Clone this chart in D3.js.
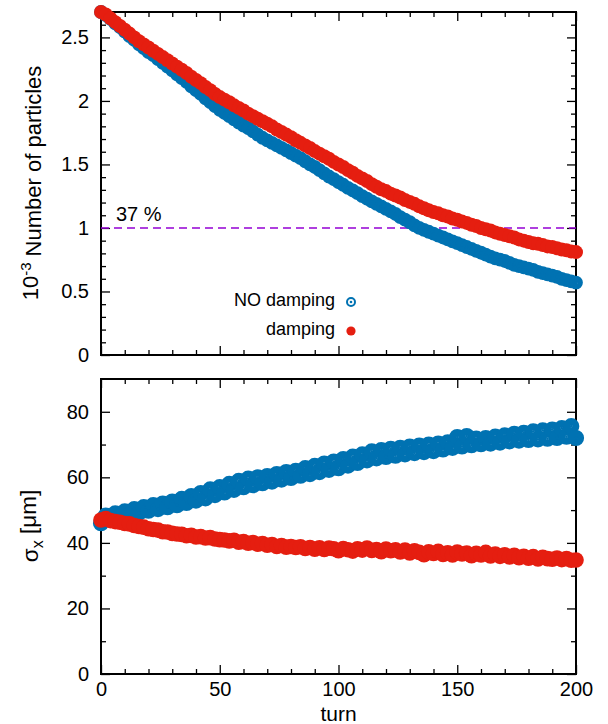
<!DOCTYPE html>
<html>
<head>
<meta charset="utf-8">
<script src="https://cdn.jsdelivr.net/npm/d3@7"></script>
<style>
  body { margin: 0; background: #fff; }
  svg { font-family: "Liberation Sans", Arial, sans-serif; }
</style>
</head>
<body>
<div id="chart"></div>
<script>
// turn numbers sampled every 2 turns
const turns = [0,2,4,6,8,10,12,14,16,18,20,22,24,26,28,30,32,34,36,38,40,42,44,46,48,50,
  52,54,56,58,60,62,64,66,68,70,72,74,76,78,80,82,84,86,88,90,92,94,96,98,100,
  102,104,106,108,110,112,114,116,118,120,122,124,126,128,130,132,134,136,138,140,142,144,146,148,150,
  152,154,156,158,160,162,164,166,168,170,172,174,176,178,180,182,184,186,188,190,192,194,196,198,200];

// number of particles (x 10^3)
const partNoDamp = [2.70,2.675,2.645,2.61,2.58,2.545,2.51,2.48,2.445,
  2.415,2.385,2.36,2.33,2.30,2.27,2.24,2.21,2.18,
  2.15,2.115,2.085,2.055,2.02,1.99,1.96,1.93,
  1.905,1.88,1.855,1.83,1.805,1.785,1.76,1.735,1.71,
  1.69,1.67,1.65,1.63,1.61,1.59,1.57,1.55,
  1.525,1.50,1.48,1.455,1.43,1.405,1.385,1.36,
  1.34,1.315,1.295,1.275,1.25,1.23,1.21,1.19,
  1.17,1.15,1.13,1.11,1.085,1.065,1.045,1.02,1.00,
  0.985,0.97,0.955,0.94,0.925,0.91,0.895,0.88,0.865,0.85,0.835,0.82,
  0.805,0.79,0.775,0.76,0.75,0.74,0.725,0.71,0.70,0.69,0.68,
  0.67,0.655,0.645,0.635,0.625,0.615,0.60,0.59,0.58,0.57];

const partDamp = [2.70,2.68,2.65,2.62,2.59,2.56,2.53,2.50,2.47,
  2.445,2.42,2.395,2.37,2.345,2.32,2.295,2.27,2.245,
  2.22,2.19,2.165,2.14,2.11,2.085,2.055,2.03,
  2.01,1.99,1.965,1.945,1.925,1.90,1.88,1.86,1.84,
  1.82,1.80,1.775,1.755,1.735,1.715,1.69,1.67,
  1.65,1.63,1.605,1.585,1.565,1.545,1.52,1.50,
  1.48,1.455,1.435,1.41,1.39,1.37,1.345,1.325,
  1.305,1.29,1.27,1.255,1.24,1.22,1.205,1.19,1.17,
  1.155,1.14,1.125,1.115,1.10,1.09,1.075,1.065,1.05,1.04,1.025,1.015,
  1.00,0.99,0.98,0.965,0.955,0.945,0.935,0.925,0.91,0.90,0.89,
  0.88,0.875,0.865,0.855,0.85,0.84,0.83,0.825,0.815,0.81];

// beam size sigma_x [um]
const sigNoDamp = [46.0,48.3,47.5,49.0,48.0,49.6,48.5,50.3,49.2,
  50.9,49.8,51.5,50.3,52.0,50.9,52.6,51.5,53.4,
  52.2,54.3,52.9,55.2,53.6,56.3,54.6,57.0,
  55.4,58.0,56.2,58.9,57.0,59.6,57.6,60.0,58.2,
  60.4,58.7,61.0,59.3,61.6,59.8,62.0,60.5,
  62.8,61.0,63.5,61.6,64.2,62.3,64.8,62.8,
  65.6,63.6,66.3,64.4,67.0,65.2,67.9,65.8,
  68.3,66.2,68.7,66.6,69.0,67.0,69.4,67.4,69.7,
  67.7,70.0,68.0,70.3,68.5,70.7,69.0,72.3,69.4,72.6,69.8,71.8,
  70.1,72.0,70.3,72.4,70.6,72.8,71.0,73.3,71.2,73.6,71.4,
  74.0,71.6,74.3,71.8,74.6,72.0,75.0,72.4,75.6,72.0];

const sigDamp = [47.0,47.4,46.8,46.5,46.3,45.9,45.8,45.3,45.0,
  44.8,44.3,44.1,43.9,43.4,43.3,42.9,42.7,42.6,
  42.2,42.3,41.8,41.9,41.5,41.6,41.2,41.0,
  40.9,40.6,40.8,40.2,40.4,39.9,40.1,39.6,39.8,
  39.3,39.5,38.9,39.2,38.7,38.9,38.6,38.8,
  38.3,38.6,38.1,38.5,38.0,38.4,38.2,37.6,
  38.3,37.9,37.5,38.2,37.8,38.4,37.7,38.0,
  37.3,38.1,37.6,37.9,37.2,37.8,36.9,37.6,37.1,
  36.4,37.3,36.8,37.4,36.5,37.0,36.3,37.2,36.6,36.9,36.1,36.8,
  36.3,37.1,36.0,36.6,35.9,36.4,35.7,36.2,35.5,35.9,35.3,
  35.8,35.1,35.6,35.2,35.0,35.4,34.9,35.2,34.7,34.8];

const xTicks = [0, 50, 100, 150, 200];
const xMinor = [10,20,30,40,60,70,80,90,110,120,130,140,160,170,180,190];
const partTicks = [0, 0.5, 1, 1.5, 2, 2.5];
const partMinor = [0.1,0.2,0.3,0.4,0.6,0.7,0.8,0.9,1.1,1.2,1.3,1.4,1.6,1.7,1.8,1.9,2.1,2.2,2.3,2.4,2.6];
const sigTicks = [0, 20, 40, 60, 80];
const sigMinor = [10, 30, 50, 70];
const refLevel = 1.0;
const refLabel = "37 %";
const seriesNames = ["NO damping", "damping"];

const blue = "#0072b2", red = "#e51e10", violet = "#9400d3";
const width = 608, height = 724;
const left = 101, right = 576;

const svg = d3.select("#chart").append("svg")
  .attr("width", width)
  .attr("height", height);

const x = d3.scaleLinear().domain([0, 200]).range([left, right]);
const yTop = d3.scaleLinear().domain([0, 2.7]).range([355, 12]);
const yBot = d3.scaleLinear().domain([0, 90]).range([674, 379]);

function ticksFor(y, majors, minors, showX) {
  const top = y.range()[1], bottom = y.range()[0];
  const g = svg.append("g").attr("class", "axes");

  const mk = (axis, tr) => {
    const a = g.append("g").attr("transform", tr).call(axis);
    a.select(".domain").remove();
    a.selectAll(".tick line").attr("stroke", "#000").attr("stroke-width", 1.3);
    return a;
  };

  // left
  mk(d3.axisLeft(y).tickValues(majors).tickSize(-9).tickPadding(12)
    .tickFormat(d3.format("")), `translate(${left},0)`)
    .selectAll("text").attr("font-size", 20).attr("fill", "#000");
  mk(d3.axisLeft(y).tickValues(minors).tickSize(-5).tickFormat(""), `translate(${left},0)`);
  // right
  mk(d3.axisRight(y).tickValues(majors).tickSize(-9).tickFormat(""), `translate(${right},0)`);
  mk(d3.axisRight(y).tickValues(minors).tickSize(-5).tickFormat(""), `translate(${right},0)`);
  // top
  mk(d3.axisTop(x).tickValues(xTicks).tickSize(-9).tickFormat(""), `translate(0,${top})`);
  mk(d3.axisTop(x).tickValues(xMinor).tickSize(-5).tickFormat(""), `translate(0,${top})`);
  // bottom
  const b = mk(d3.axisBottom(x).tickValues(xTicks).tickSize(-9).tickPadding(8)
    .tickFormat(showX ? d3.format("") : ""), `translate(0,${bottom})`);
  b.selectAll("text").attr("font-size", 20).attr("fill", "#000");
  mk(d3.axisBottom(x).tickValues(xMinor).tickSize(-5).tickFormat(""), `translate(0,${bottom})`);

  svg.append("rect")
    .attr("x", left).attr("y", top)
    .attr("width", right - left).attr("height", bottom - top)
    .attr("fill", "none").attr("stroke", "#000").attr("stroke-width", 2);
}

// open circle with a centre dot, drawn thick so the dense band reads solid
function ringPoints(vals, y, r, sw) {
  const g = svg.append("g");
  const data = turns.map((t, i) => [t, vals[i]]);
  g.selectAll("circle.ring").data(data).enter().append("circle")
    .attr("class", "ring")
    .attr("cx", d => x(d[0])).attr("cy", d => y(d[1]))
    .attr("r", r).attr("fill", "none")
    .attr("stroke", blue).attr("stroke-width", sw);
  g.selectAll("circle.dot").data(data).enter().append("circle")
    .attr("class", "dot")
    .attr("cx", d => x(d[0])).attr("cy", d => y(d[1]))
    .attr("r", 1.4).attr("fill", blue);
}

function dotPoints(vals, y, r) {
  const data = turns.map((t, i) => [t, vals[i]]);
  svg.append("g").selectAll("circle").data(data).enter().append("circle")
    .attr("cx", d => x(d[0])).attr("cy", d => y(d[1]))
    .attr("r", r).attr("fill", red);
}

// ---- upper panel
ticksFor(yTop, partTicks, partMinor, false);

svg.append("line")
  .attr("x1", left).attr("x2", right)
  .attr("y1", yTop(refLevel)).attr("y2", yTop(refLevel))
  .attr("stroke", violet).attr("stroke-width", 1.5)
  .attr("stroke-dasharray", "8,5");

svg.append("text")
  .attr("x", 116).attr("y", yTop(refLevel) - 7)
  .attr("font-size", 20)
  .text(refLabel);

ringPoints(partNoDamp, yTop, 4.3, 5.2);
dotPoints(partDamp, yTop, 7);

// legend
const legend = svg.append("g").attr("font-size", 18);
legend.append("text").attr("x", 335).attr("y", 306).attr("text-anchor", "end").text(seriesNames[0]);
legend.append("text").attr("x", 335).attr("y", 335).attr("text-anchor", "end").text(seriesNames[1]);
legend.append("circle").attr("cx", 351).attr("cy", 302).attr("r", 4)
  .attr("fill", "none").attr("stroke", blue).attr("stroke-width", 2);
legend.append("circle").attr("cx", 351).attr("cy", 302).attr("r", 1.3).attr("fill", blue);
legend.append("circle").attr("cx", 351).attr("cy", 331).attr("r", 4.6).attr("fill", red);

svg.append("text")
  .attr("transform", "translate(38,183) rotate(-90)")
  .attr("text-anchor", "middle")
  .attr("font-size", 22)
  .call(t => {
    t.append("tspan").text("10");
    t.append("tspan").attr("dy", "-0.45em").attr("font-size", 15).text("-3");
    t.append("tspan").attr("dy", "0.45em").text(" Number of particles");
  });

// ---- lower panel
ticksFor(yBot, sigTicks, sigMinor, true);

ringPoints(sigNoDamp, yBot, 4.6, 7);
dotPoints(sigDamp, yBot, 7.8);

svg.append("text")
  .attr("transform", "translate(38,526) rotate(-90)")
  .attr("text-anchor", "middle")
  .attr("font-size", 22.5)
  .call(t => {
    t.append("tspan").text("σ");
    t.append("tspan").attr("dy", "0.3em").attr("font-size", 16).text("x");
    t.append("tspan").attr("dy", "-0.3em").text(" [μm]");
  });

svg.append("text")
  .attr("x", x(100)).attr("y", 721)
  .attr("text-anchor", "middle")
  .attr("font-size", 21)
  .text("turn");
</script>
</body>
</html>
